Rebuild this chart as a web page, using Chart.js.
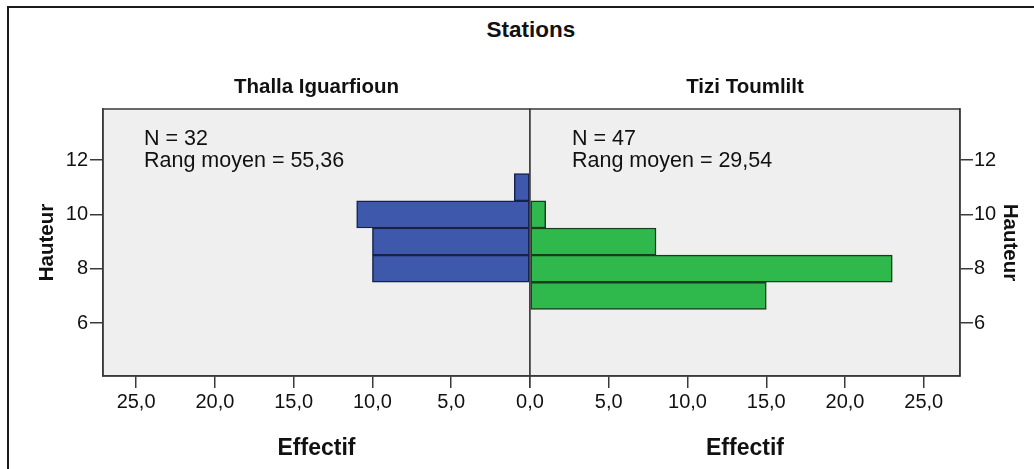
<!DOCTYPE html>
<html lang="fr">
<head>
<meta charset="utf-8">
<script src="https://cdn.jsdelivr.net/npm/chart.js@4.4.1/dist/chart.umd.min.js"></script>
<style>
  body { margin: 0; background: #fff; }
  #cadre { position: relative; width: 1034px; height: 469px; overflow: hidden; font-family: "Liberation Sans", Arial, sans-serif; color: #111; }
  #bord { position: absolute; left: 7px; top: 6px; right: -10px; bottom: -10px; border-left: 2px solid #1a1a1a; border-top: 2px solid #1a1a1a; }
  #titre { position: absolute; left: 431px; width: 200px; top: 17px; line-height: 26px; font-size: 22.5px; font-weight: bold; text-align: center; }
  canvas { position: absolute; top: 0; }
  #gauche { left: 0; }
  #droite { left: 500px; }
</style>
</head>
<body>
<div id="cadre">
  <div id="bord"></div>
  <div id="titre">Stations</div>
  <canvas id="gauche" width="560" height="469"></canvas>
  <canvas id="droite" width="534" height="469"></canvas>
</div>
<script>
// classes de hauteur (centres) et effectifs par station
const stations = ['Thalla Iguarfioun', 'Tizi Toumlilt'];
const hauteurs = [11, 10, 9, 8, 7];
const effectifThalla = [1, 11, 10, 10, 0];
const effectifTizi = [0, 1, 8, 23, 15];
const rangMoyen = ['55,36', '29,54'];

const effectifTicks = [0, 5, 10, 15, 20, 25];
const hauteurTicks = [6, 8, 10, 12];

const police = '"Liberation Sans", Arial, sans-serif';
Chart.defaults.font.family = police;
Chart.defaults.color = '#111';

const total = arr => arr.reduce((a, b) => a + b, 0);
const points = arr => hauteurs.map((h, i) => ({ x: arr[i], y: h })).filter(p => p.x > 0);
const virgule = v => v.toFixed(1).replace('.', ',');

// fond gris, cadre du panneau, titre de station et texte N / rang moyen
const decor = {
  id: 'decor',
  beforeDraw(chart) {
    const { ctx, chartArea: a } = chart;
    ctx.save();
    ctx.fillStyle = '#efefef';
    ctx.fillRect(a.left, a.top, a.right - a.left, a.bottom - a.top);
    ctx.restore();
  },
  afterDatasetsDraw(chart, args, opts) {
    const { ctx, chartArea: a } = chart;
    ctx.save();
    ctx.strokeStyle = '#3a3a3a';
    ctx.lineWidth = 1.5;
    ctx.strokeRect(a.left, a.top, a.right - a.left, a.bottom - a.top);
    ctx.fillStyle = '#111';
    ctx.textBaseline = 'middle';
    ctx.textAlign = 'center';
    ctx.font = 'bold 20.5px ' + police;
    ctx.fillText(opts.titre, (a.left + a.right) / 2, a.top - 22);
    ctx.textAlign = 'left';
    ctx.font = '21.5px ' + police;
    opts.lignes.forEach((t, i) => ctx.fillText(t, a.left + opts.dx, a.top + 30 + i * 22));
    ctx.restore();
  }
};

const trait = { color: '#3a3a3a', lineWidth: 1.5, drawOnChartArea: false, drawTicks: true };

function axeX(reverse, max, fmt) {
  return {
    type: 'linear', reverse: reverse, min: 0, max: max,
    afterBuildTicks: s => { s.ticks = effectifTicks.map(v => ({ value: v })); },
    afterFit: s => { s.height = 93; },
    grid: Object.assign({ tickLength: 12 }, trait),
    border: { color: '#3a3a3a', width: 1.5 },
    ticks: { font: { size: 20 }, padding: 2, maxRotation: 0, callback: fmt },
    title: { display: true, text: 'Effectif', font: { size: 23, weight: 'bold' }, padding: { top: 0, bottom: 7 } }
  };
}

function axeY(position, largeur, titrePad, tickPad) {
  return {
    type: 'linear', position: position, min: 4.05, max: 13.88, offset: false,
    afterBuildTicks: s => { s.ticks = hauteurTicks.map(v => ({ value: v })); },
    afterFit: s => { s.width = largeur; },
    grid: Object.assign({ tickLength: 13, offset: false }, trait),
    border: { color: '#3a3a3a', width: 1.5 },
    ticks: { font: { size: 20 }, padding: tickPad },
    title: { display: true, text: 'Hauteur', font: { size: 20.5, weight: 'bold' }, padding: { top: titrePad, bottom: 0 } }
  };
}

function serie(nom, valeurs, fond, bord) {
  return {
    label: nom, data: points(valeurs),
    backgroundColor: fond, borderColor: bord, borderWidth: 1.5, borderSkipped: false,
    barPercentage: 1, categoryPercentage: 1
  };
}

new Chart(document.getElementById('gauche'), {
  type: 'bar',
  data: { datasets: [serie(stations[0], effectifThalla, '#3e58ab', '#16224a')] },
  options: {
    indexAxis: 'y', responsive: false, animation: false,
    layout: { padding: { top: 109, right: 30, left: 0, bottom: 0 } },
    plugins: {
      legend: { display: false }, tooltip: { enabled: false },
      decor: { titre: stations[0], lignes: ['N = ' + total(effectifThalla), 'Rang moyen = ' + rangMoyen[0]], dx: 41 }
    },
    scales: {
      x: axeX(true, 27.1, v => virgule(v)),
      y: axeY('left', 103, 35, 2)
    }
  },
  plugins: [decor]
});

new Chart(document.getElementById('droite'), {
  type: 'bar',
  data: { datasets: [serie(stations[1], effectifTizi, '#2fb84c', '#173d1c')] },
  options: {
    indexAxis: 'y', responsive: false, animation: false,
    layout: { padding: { top: 109, right: 0, left: 30, bottom: 0 } },
    plugins: {
      legend: { display: false }, tooltip: { enabled: false },
      decor: { titre: stations[1], lignes: ['N = ' + total(effectifTizi), 'Rang moyen = ' + rangMoyen[1]], dx: 42 }
    },
    scales: {
      x: axeX(false, 27.3, v => v === 0 ? '' : virgule(v)),
      y: axeY('right', 74, 12, 1)
    }
  },
  plugins: [decor]
});
</script>
</body>
</html>
